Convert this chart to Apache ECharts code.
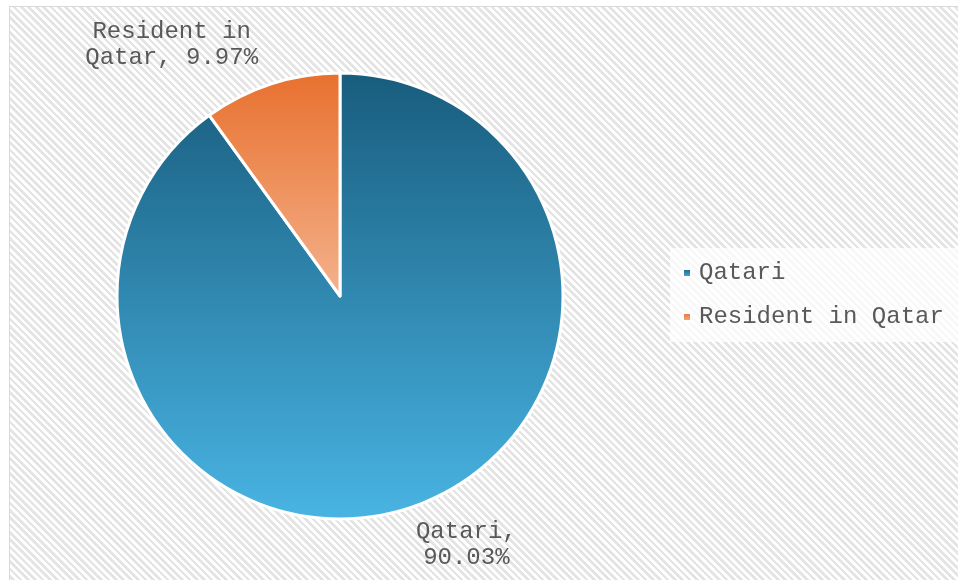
<!DOCTYPE html>
<html>
<head>
<meta charset="utf-8">
<script src="https://cdn.jsdelivr.net/npm/echarts@6/dist/echarts.min.js"></script>
<style>
  html, body { margin: 0; padding: 0; background: #fff; }
  #wrap { position: relative; width: 958px; height: 580px; overflow: hidden; }
  #frame {
    position: absolute; left: 9px; top: 6px; right: -2px; bottom: -2px;
    border-left: 1px solid #d9d9d9; border-top: 1px solid #d9d9d9;
    background: repeating-linear-gradient(45deg, #ffffff 0 2.6px, #e4e4e4 2.6px 5.2px);
  }
  #chart { position: absolute; left: 0; top: 0; width: 958px; height: 580px; }
</style>
</head>
<body>
<div id="wrap">
  <div id="frame"></div>
  <div id="chart"></div>
</div>
<script>
// Population split
const categories = ['Qatari', 'Resident in Qatar'];
const shares = [90.03, 9.97];

// Vertical gradients for each slice (top colour, bottom colour)
const sliceColors = [
  ['#185c7d', '#49b4e3'],
  ['#e8702e', '#f4b28d']
];

function grad(c) {
  return new echarts.graphic.LinearGradient(0, 0, 0, 1, [
    { offset: 0, color: c[0] },
    { offset: 1, color: c[1] }
  ]);
}

const textColor = '#595959';
const font = '"Liberation Mono", "Courier New", monospace';

// Nudges for the outside labels, relative to the default anchor
const labelShift = [
  { dx: 18, dy: 22 },
  { dx: -60, dy: -25 }
];

const chart = echarts.init(document.getElementById('chart'), null, { renderer: 'canvas' });

chart.setOption({
  animation: false,
  legend: {
    orient: 'vertical',
    left: 670,
    top: 248,
    padding: [12, 14, 12, 12],
    backgroundColor: 'rgba(255,255,255,0.75)',
    itemWidth: 8,
    itemHeight: 8,
    itemGap: 18,
    icon: 'rect',
    textStyle: { color: textColor, fontFamily: font, fontSize: 24, lineHeight: 26, padding: [0, 0, 0, 3] },
    data: categories
  },
  series: [{
    type: 'pie',
    center: [340, 296],
    radius: 223,
    startAngle: 90,
    clockwise: true,
    data: categories.map((name, i) => ({
      name,
      value: shares[i],
      itemStyle: { color: grad(sliceColors[i]) }
    })),
    itemStyle: { borderColor: '#ffffff', borderWidth: 3 },
    label: {
      show: true,
      position: 'outside',
      color: textColor,
      fontFamily: font,
      fontSize: 24,
      lineHeight: 26,
      formatter: p => {
        const v = p.value.toFixed(2) + '%';
        return p.dataIndex === 0 ? p.name + ',\n' + v : 'Resident in\nQatar, ' + v;
      }
    },
    labelLine: { show: false },
    labelLayout: p => Object.assign({ align: 'center', verticalAlign: 'middle' }, labelShift[p.dataIndex]),
    emphasis: { disabled: true }
  }]
});
</script>
</body>
</html>
